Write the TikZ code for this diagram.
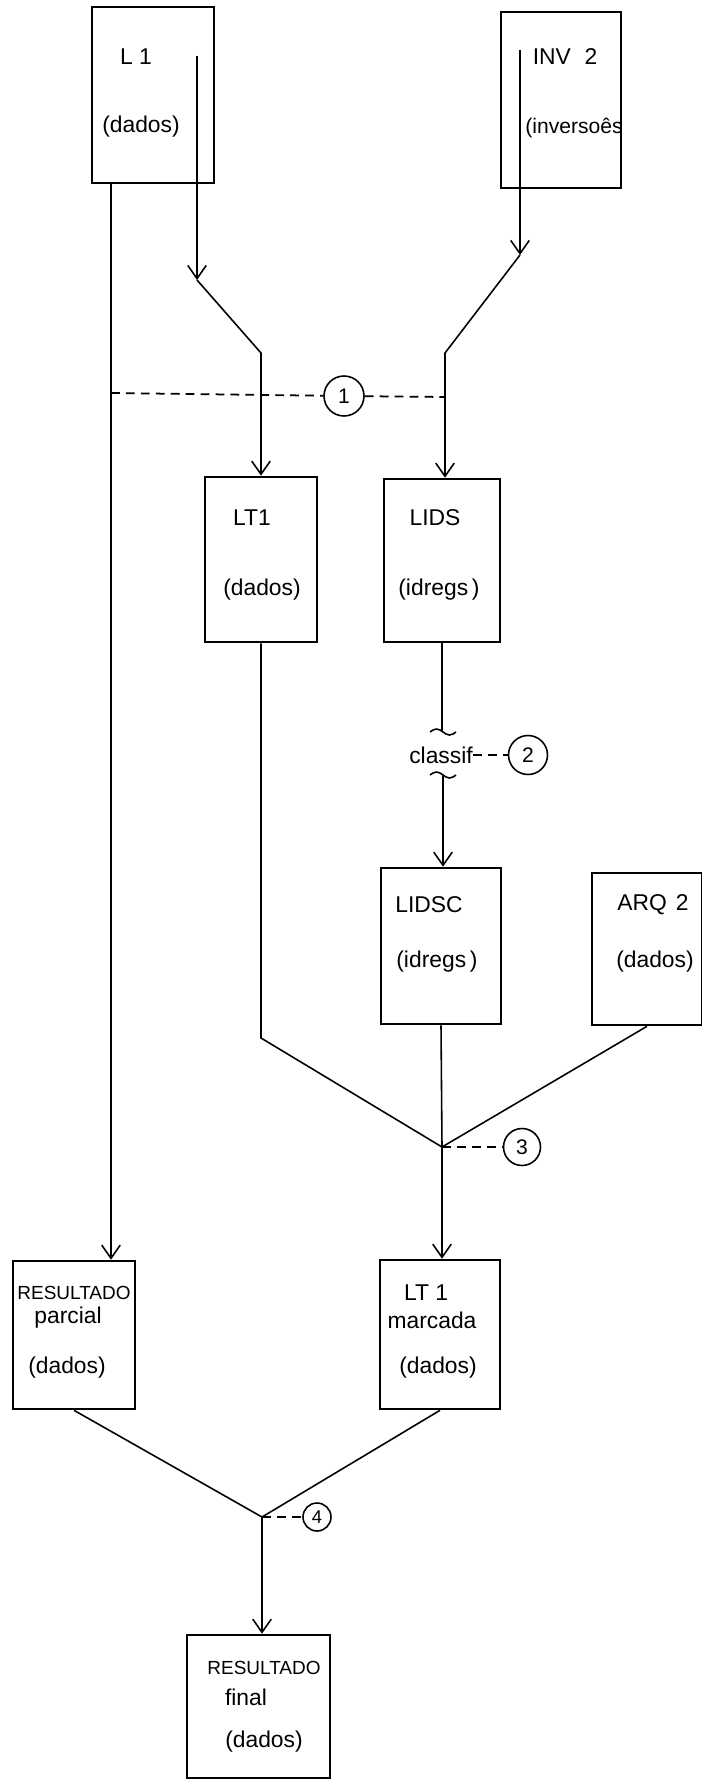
\documentclass[tikz,border=0pt]{standalone}
\usepackage{fontspec}
\setmainfont{Liberation Sans}
\usepackage{tikz}
\usetikzlibrary{arrows.meta, calc}

\tikzset{
  caixa/.style={draw, line width=1.5pt, inner sep=0pt},
  rotulo/.style={inner sep=0pt, font=\fontsize{13}{15}\selectfont},
  rotulopeq/.style={inner sep=0pt, font=\fontsize{10.8}{12}\selectfont},
  fluxo/.style={line width=0.9pt},
  seta/.style={fluxo, -{Straight Barb[length=7.5pt, width=10.5pt]}},
  tracos/.style={line width=1pt, dash pattern=on 5pt off 3.5pt},
  passo/.style={draw, circle, line width=0.9pt, inner sep=0pt, font=\fontsize{12}{14}\selectfont},
}

\begin{document}
\begin{tikzpicture}[x=0.02cm, y=-0.02cm]
\useasboundingbox (0,0) rectangle (702,1780);

\node[caixa, minimum width=2.44cm, minimum height=3.52cm] (l1) at (153,95) {};
\node[rotulo] (l1nome) at (136,57) {L 1};
\node[rotulo] (l1tipo) at (141,127) {(dados)};

\node[caixa, minimum width=2.4cm, minimum height=3.52cm] (inv) at (561,100) {};
\node[rotulo] (invnome) at (565,57) {INV\hspace{0.6em}2};
\node[rotulo, anchor=west, font=\fontsize{12}{14}\selectfont] (invtipo) at (525,128) {(inversoês};

\node[caixa, minimum width=2.24cm, minimum height=3.3cm] (lt1) at (261,559.5) {};
\node[rotulo] (lt1nome) at (252,518) {LT1};
\node[rotulo] (lt1tipo) at (262,590) {(dados)};

\node[caixa, minimum width=2.32cm, minimum height=3.26cm] (lids) at (442,560.5) {};
\node[rotulo] (lidsnome) at (435,518) {LIDS};
\node[rotulo] (lidstipo) at (439,590) {(idregs\,)};

\node[rotulo] (classif) at (441,755) {classif};
\node[passo, minimum size=0.78cm] (c2) at (528,755) {2};

\node[caixa, minimum width=2.4cm, minimum height=3.12cm] (lidsc) at (441,946) {};
\node[rotulo] (lidscnome) at (429,905) {LIDSC};
\node[rotulo] (lidsctipo) at (437,962) {(idregs\,)};

\node[caixa, minimum width=2.2cm, minimum height=3.04cm] (arq) at (647,949) {};
\node[rotulo] (arqnome) at (653,905) {ARQ\hspace{0.4em}2};
\node[rotulo] (arqtipo) at (655,962) {(dados)};

\node[passo, minimum size=0.8cm] (c1) at (344,396) {1};
\node[passo, minimum size=0.74cm] (c3) at (522,1147) {3};

\node[caixa, minimum width=2.44cm, minimum height=2.96cm] (parc) at (74,1335) {};
\node[rotulopeq] (parcnome) at (74,1293) {RESULTADO};
\node[rotulo] (parcsub) at (68,1318) {parcial};
\node[rotulo] (parctipo) at (67,1368) {(dados)};

\node[caixa, minimum width=2.4cm, minimum height=2.98cm] (marc) at (440,1334.5) {};
\node[rotulo] (marcnome) at (426,1293) {LT 1};
\node[rotulo] (marcsub) at (432,1320) {marcada};
\node[rotulo] (marctipo) at (438,1368) {(dados)};

\node[passo, minimum size=0.56cm, font=\fontsize{10.5}{12}\selectfont] (c4) at (317,1517) {4};

\node[caixa, minimum width=2.86cm, minimum height=2.86cm] (fin) at (258.5,1706.5) {};
\node[rotulopeq] (finnome) at (264,1668) {RESULTADO};
\node[rotulo] (finsub) at (246,1697) {final};
\node[rotulo] (fintipo) at (264,1742) {(dados)};

\coordinate (l1ini) at (197,56);
\coordinate (l1qb) at (197,280);
\coordinate (l1vt) at (261,353);
\coordinate (invini) at (520,50);
\coordinate (invqb) at (520,255);
\coordinate (invvt) at (445,353);
\coordinate (l1esq) at (111,183);
\coordinate (d1a) at (111,393);
\coordinate (d1b) at (445,397);
\coordinate (ondasup) at (443,732);
\coordinate (ondainf) at (443,775);
\coordinate (lt1dobra) at (261,1038);
\coordinate (j3) at (442,1147);
\coordinate (j4) at (262,1517);

\draw[seta] (l1ini) -- (l1qb);
\draw[seta] (l1qb) -- (l1vt) -- (l1vt |- lt1.north);
\draw[seta] (invini) -- (invqb);
\draw[seta] (invqb) -- (invvt) -- (invvt |- lids.north);
\draw[seta] (l1esq) -- (l1esq |- parc.north);
\draw[tracos] (d1a) -- (c1) -- (d1b);

\draw[fluxo] (lids.south) -- (lids.south |- ondasup);
\draw[fluxo] ($(ondasup)+(-13,0)$) sin ++(6.5,-3) cos ++(6.5,3) sin ++(6.5,3) cos ++(6.5,-3);
\draw[fluxo] ($(ondainf)+(-13,0)$) sin ++(6.5,-3) cos ++(6.5,3) sin ++(6.5,3) cos ++(6.5,-3);
\draw[seta] (ondainf) -- (ondainf |- lidsc.north);
\draw[tracos] (classif) -- (c2);

\draw[fluxo] (lt1.south) -- (lt1dobra) -- (j3);
\draw[fluxo] (lidsc.south) -- (j3);
\draw[fluxo] (arq.south) -- (j3);
\draw[seta] (j3) -- (j3 |- marc.north);
\draw[tracos] (j3) -- (c3);

\draw[fluxo] (parc.south) -- (j4);
\draw[fluxo] (marc.south) -- (j4);
\draw[seta] (j4) -- (j4 |- fin.north);
\draw[tracos] (j4) -- (c4);
\end{tikzpicture}
\end{document}
